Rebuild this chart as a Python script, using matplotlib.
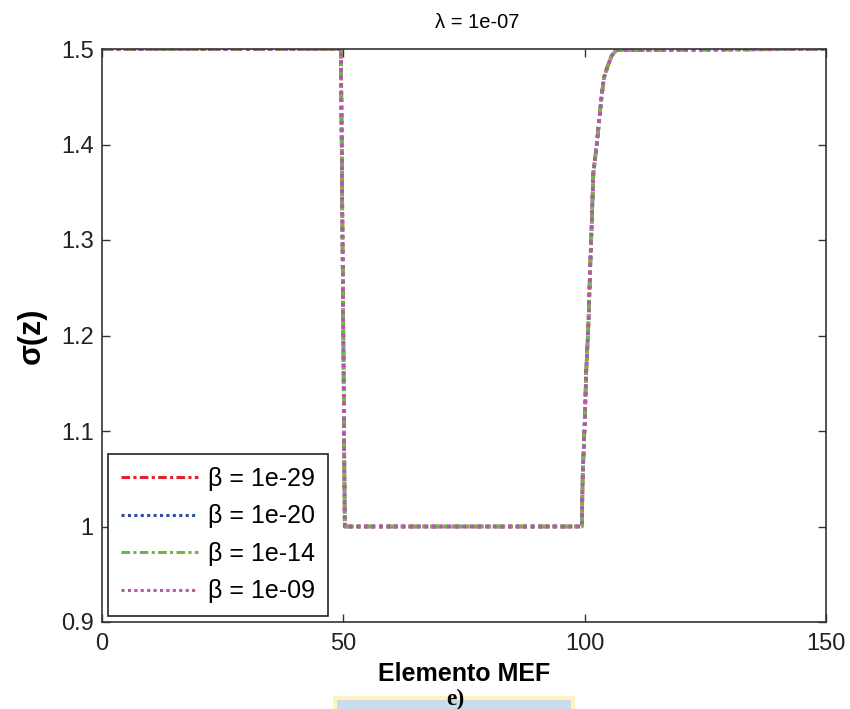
import matplotlib
matplotlib.use("Agg")
import matplotlib.pyplot as plt
from matplotlib.patches import Rectangle

plt.rcParams['font.family'] = ['Liberation Sans', 'DejaVu Sans']

# Data
element = [0, 49.5, 50.0, 50.3, 99.4, 99.6, 100.0, 100.3, 100.8, 101.1, 101.5, 101.8,
           102.5, 103.0, 103.5, 104.0, 104.7, 105.6, 106.6, 150]
sigma = [1.5, 1.5, 1.2, 1.0, 1.0, 1.054, 1.107, 1.160, 1.215, 1.265, 1.323, 1.370,
         1.400, 1.425, 1.450, 1.470, 1.481, 1.493, 1.499, 1.5]
betas = ['1e-29', '1e-20', '1e-14', '1e-09']
colors = ['#E8202A', '#2D4E9E', '#66BB44', '#BB55AA']
styles = [(0, (2.8, 1.1, 1.0, 1.1)), (0, (1.0, 1.1)), (0, (2.8, 1.1, 1.0, 1.1)), (0, (1.0, 1.1))]
title = '\u03bb = 1e-07'

W, H = 850, 709
fig = plt.figure(figsize=(8.5, 7.09), dpi=100)
ax = fig.add_axes([102/W, 1-622/H, (826-102)/W, (622-49)/H])

for b, c, ls in zip(betas, colors, styles):
    ax.plot(element, sigma, color=c, linestyle=ls, linewidth=2.6,
            label='\u03b2 = ' + b)

ax.set_xlim(0, 150)
ax.set_ylim(0.9, 1.5)
ax.set_xticks([0, 50, 100, 150])
ax.set_xticklabels(['0', '50', '100', '150'])
ax.set_yticks([0.9, 1.0, 1.1, 1.2, 1.3, 1.4, 1.5])
ax.set_yticklabels(['0.9', '1', '1.1', '1.2', '1.3', '1.4', '1.5'])
ax.tick_params(direction='in', top=True, right=True, length=6, width=1,
               labelsize=17, colors='#333333', labelcolor='#222222')
ax.tick_params(axis='x', pad=8)
ax.tick_params(axis='y', pad=6)
for s in ax.spines.values():
    s.set_color('#333333')
    s.set_linewidth(1.2)

ax.set_title(title, fontsize=14.5, pad=15, x=0.518)
ax.set_xlabel('Elemento MEF', fontsize=18, fontweight='bold', va='center')
ax.xaxis.set_label_coords(0.5, (622 - 674) / (622 - 49))
ax.set_ylabel('\u03c3(z)', fontsize=22, fontweight='bold', labelpad=10)

leg = ax.legend(loc='lower left', borderaxespad=0.25, fontsize=18,
                handlelength=3.1, handletextpad=0.4, labelspacing=0.54,
                borderpad=0.5, fancybox=False, framealpha=1, edgecolor='#222222')
leg.get_frame().set_linewidth(1.2)
for line in leg.get_lines():
    line.set_linewidth(2.2)

# caption box and label below
fig.patches.append(Rectangle((335/W, -0.01), (573-335)/W, 11/H + 0.01, transform=fig.transFigure,
                             facecolor='#CADBEB', edgecolor='#FFF3C4', linewidth=3, zorder=0))
fig.text(455/W, 1-699/H, 'e)', fontsize=17, fontweight='bold', family='Liberation Serif',
         ha='center', va='center')

fig.savefig('out.png', dpi=100)
